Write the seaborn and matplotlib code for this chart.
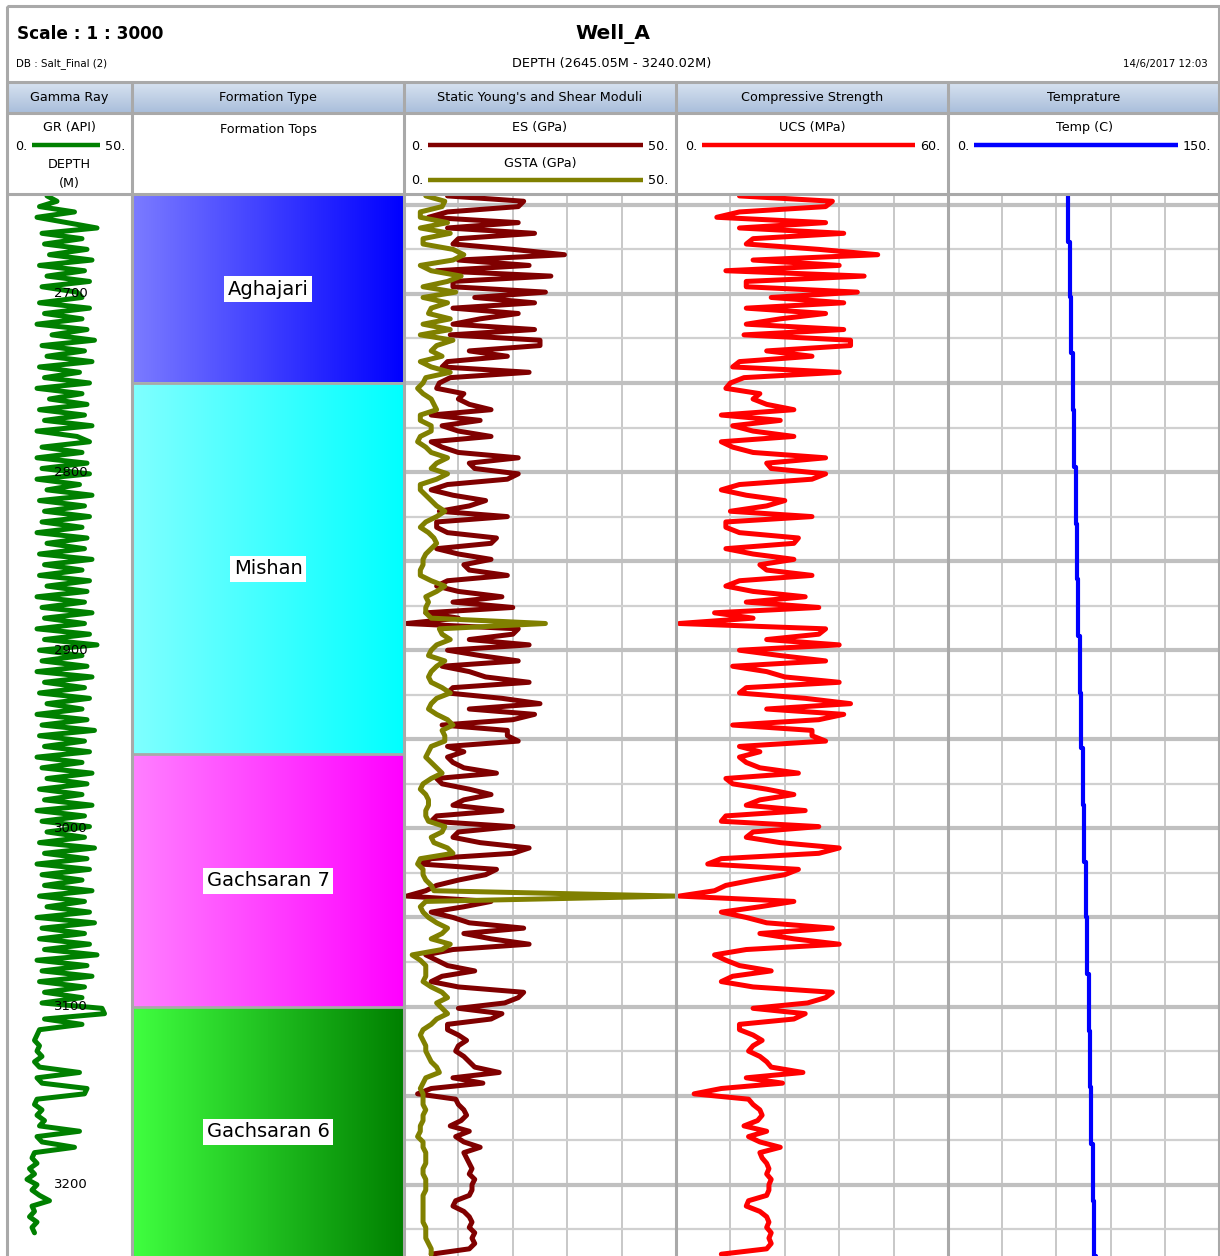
import numpy as np
import matplotlib
matplotlib.use('Agg')
from matplotlib import pyplot as plt
from matplotlib.ticker import MultipleLocator
from matplotlib.colors import LinearSegmentedColormap
from matplotlib.patches import Rectangle
import seaborn as sns

W, H = 1220, 1256
depth_top, depth_bot = 2645.05, 3240.02

# ---- data (3 m sampling) ----
gr_depth = np.arange(2645, 3230, 3)
gr_api = [16, 20, 13, 27, 12, 24, 36, 14, 30, 15,
          32, 17, 34, 13, 31, 16, 33, 14, 28, 30,
          13, 33, 15, 30, 12, 32, 18, 35, 14, 31,
          16, 34, 13, 29, 15, 33, 12, 30, 17, 32,
          13, 31, 15, 34, 12, 28, 33, 14, 30, 12,
          32, 14, 33, 12, 29, 16, 34, 13, 31, 15,
          33, 14, 30, 12, 32, 16, 31, 13, 34, 15,
          30, 13, 33, 16, 32, 12, 31, 14, 34, 15,
          31, 12, 33, 15, 36, 13, 30, 14, 32, 12,
          34, 15, 31, 13, 33, 16, 30, 12, 32, 14,
          35, 13, 31, 15, 33, 12, 30, 14, 34, 16,
          32, 13, 30, 15, 34, 12, 31, 14, 33, 16,
          31, 13, 35, 15, 32, 12, 33, 14, 30, 15,
          34, 13, 31, 16, 33, 12, 35, 14, 31, 13,
          33, 15, 36, 12, 32, 14, 34, 13, 31, 15,
          30, 14, 38, 39, 15, 30, 13, 12, 11, 13,
          12, 14, 11, 13, 29, 12, 14, 32, 31, 12,
          11, 14, 12, 15, 13, 29, 12, 14, 27, 11,
          10, 12, 9, 11, 8, 12, 10, 13, 17, 10,
          11, 9, 12, 10, 11]

log_depth = np.arange(2645, 3240, 3)
es_gpa = [8, 22, 21, 8, 4.5, 21, 8, 24, 10, 9,
          20, 29.5, 10, 23, 6, 27, 9, 9, 26, 13,
          24, 9, 21, 14, 9, 24, 8.5, 25, 25, 12,
          19, 8, 7, 23, 8.5, 6.5, 6, 11, 10, 12,
          16, 5, 14, 7, 10, 16, 5, 7, 10, 21,
          12, 13, 21, 19, 8, 5, 9, 15, 12, 6.5,
          19, 6, 6, 8, 17, 16, 6, 10, 16, 11,
          12, 19, 8, 6, 10, 18, 9, 20, 4, 10,
          0.5, 21, 20, 12, 23, 8, 14, 21, 7, 12,
          15, 23, 9, 8, 18, 25, 12, 24, 20, 7,
          19, 19, 21, 8, 11, 8, 9, 11, 17, 6,
          7, 12, 16, 11, 9, 18, 6, 5, 20, 10,
          9, 14, 23, 20, 5, 3, 17, 15, 10, 6,
          4, 0.5, 16, 11, 5, 9, 12, 22, 11, 16,
          23, 9, 4, 6, 8, 13, 7, 5, 10, 22,
          21, 18.5, 10, 18, 16, 8, 8, 10, 11.5, 10,
          9.5, 11, 12, 13, 17.5, 9, 14.5, 5, 2.5, 9.5,
          10, 11, 11.5, 10.5, 8.5, 12, 9.5, 11, 14, 11,
          11.5, 12, 12.5, 12, 13, 12.5, 12.5, 12, 9.5, 9,
          11, 12, 12.5, 12, 13, 12.5, 13, 12, 5]

gsta_gpa = [4, 7.5, 7, 3, 3, 8, 3, 8.5, 3.5, 3.5,
            9, 11, 9, 3, 5, 10.5, 8, 3.5, 9.5, 3.5,
            8, 5, 4.5, 8.5, 3.5, 8.5, 3, 9, 6, 5,
            7, 3, 5, 8.5, 4, 3.5, 2.5, 3.5, 5, 5.5,
            6, 3, 3, 5, 5, 3, 2.5, 4, 5, 8,
            6, 5, 8, 6, 3, 3, 4, 5, 6, 7.5,
            6, 4, 3, 4.5, 5.5, 6, 5, 4, 3.5, 3.5,
            3, 3, 5, 7.5, 6, 4, 4.5, 4, 4, 5,
            26, 6.5, 7, 8.5, 6, 5, 4.5, 7.5, 6, 5,
            4.5, 5, 7, 8.5, 6, 5, 4.5, 6, 8, 9,
            7, 7.5, 7.5, 5, 4.5, 4, 5, 6, 7, 5,
            3.5, 3, 4, 4.5, 4.5, 4, 4, 4.5, 7.5, 7,
            5, 5.5, 8, 9, 3, 2.5, 3.5, 3.5, 4, 5,
            5.5, 50, 4, 3, 3.5, 4.5, 6, 8, 7, 5,
            8.5, 7, 1.5, 3, 4, 4, 4, 3.5, 5, 7,
            8, 6, 7, 8, 6, 5, 3.5, 3, 3.5, 4,
            4, 4.5, 5, 6, 6.5, 4, 3.5, 3, 3.5, 3.5,
            3.5, 4, 3.5, 3.5, 3, 3, 2.5, 3.5, 3.5, 4,
            4, 4, 3.5, 3.5, 4, 4, 4, 3.5, 3.5, 3.5,
            3.5, 3.5, 3.5, 4, 4, 4, 4.5, 5, 5]

ucs_mpa = [14, 34.5, 33, 14, 9, 33, 14, 37, 17, 15.5,
           31.5, 44.5, 17, 36, 11, 41.5, 15.5, 15.5, 40, 21,
           37, 15.5, 33, 23, 15.5, 37, 15, 38.5, 38.5, 20,
           30, 14, 12.5, 36, 15, 12, 11, 18.5, 17, 20,
           26, 10, 23, 12.5, 17, 26, 10, 12.5, 17, 33,
           20, 21, 33, 30, 14, 10, 15.5, 24, 20, 12,
           30, 11, 11, 14, 27, 26, 11, 17, 26, 18.5,
           20, 30, 14, 11, 17, 28.5, 15.5, 31.5, 8.5, 17,
           0.7, 33, 31.5, 20, 36, 14, 23, 33, 12.5, 20,
           24, 36, 15.5, 14, 28.5, 38.5, 20, 37, 31.5, 12.5,
           30, 30, 33, 14, 18.5, 14, 15.5, 18.5, 27, 11,
           12.5, 20, 26, 18.5, 15.5, 28.5, 11, 10, 31.5, 17,
           15.5, 23, 36, 31.5, 10, 7, 27, 24, 17, 11,
           8.5, 0.7, 26, 18.5, 10, 15.5, 20, 34.5, 18.5, 26,
           36, 15.5, 8.5, 11, 14, 21, 12.5, 10, 17, 34.5,
           33, 29, 17, 28.5, 26, 14, 14, 17, 19, 17,
           16, 18.5, 20, 21, 28, 15.5, 23.5, 10, 4, 16,
           17, 18.5, 19, 18, 15, 20, 16, 18.5, 23, 18.5,
           19, 20, 20.5, 20, 21, 20.5, 20.5, 20, 16, 15.5,
           18.5, 20, 20.5, 20, 21, 20.5, 21, 20, 10]

temp_depth = [2645.05, 2671, 2702, 2733, 2765, 2797, 2829, 2860, 2892, 2924,
              2955, 2987, 3019, 3050, 3082, 3114, 3145, 3177, 3209, 3240.02]
temp_c = [66.6, 67.4, 68.2, 69.0, 69.8, 70.6, 71.4, 72.2, 73.0, 73.8,
          74.6, 75.4, 76.2, 77.0, 77.8, 78.6, 79.4, 80.2, 81.0, 81.8]

form_names = ['Aghajari', 'Mishan', 'Gachsaran 7', 'Gachsaran 6']
form_tops = [2645.05, 2750.0, 2958.3, 3100.3]
form_bases = [2750.0, 2958.3, 3100.3, 3240.02]
form_light = ['#7b7bff', '#80ffff', '#ff80ff', '#40ff40']
form_dark = ['#0000ff', '#00ffff', '#ff00ff', '#008000']

depth_marks = [2700, 2800, 2900, 3000, 3100, 3200]

track_titles = ['Gamma Ray', 'Formation Type', "Static Young's and Shear Moduli",
                'Compressive Strength', 'Temprature']
track_edges = [7, 132, 404, 676, 948, 1219]

# ---- figure ----
sns.set_style('white')
plt.rcParams['font.family'] = ['DejaVu Sans']
plt.rcParams['text.color'] = 'black'
fig = plt.figure(figsize=(W / 100, H / 100), dpi=100)

GRID_COL = '#a9a9a9'


def px_axes(x0, x1, y0, y1, **kw):
    return fig.add_axes([x0 / W, 1 - y1 / H, (x1 - x0) / W, (y1 - y0) / H], **kw)


ax0 = px_axes(0, W, 0, H)
ax0.set_xlim(0, W)
ax0.set_ylim(H, 0)
ax0.axis('off')

# header band for track titles
band = LinearSegmentedColormap.from_list('band', ['#d6e1ef', '#a9bedb'])
ax0.imshow(np.linspace(0, 1, 64).reshape(-1, 1), cmap=band, aspect='auto',
           extent=(7, 1219, 113, 83), origin='upper')
ax0.set_xlim(0, W)
ax0.set_ylim(H, 0)

ax0.text(17, 34, 'Scale : 1 : 3000', fontsize=12.2, fontweight='bold', va='center', ha='left')
ax0.text(613, 34, 'Well_A', fontsize=14.5, fontweight='bold', va='center', ha='center')
ax0.text(16, 64, 'DB : Salt_Final (2)', fontsize=7.4, va='center', ha='left')
ax0.text(612, 63, 'DEPTH (2645.05M - 3240.02M)', fontsize=9.3, va='center', ha='center')
ax0.text(1208, 64, '14/6/2017 12:03', fontsize=7.4, va='center', ha='right')

for i, title in enumerate(track_titles):
    xc = (track_edges[i] + track_edges[i + 1]) / 2
    ax0.text(xc, 97, title, fontsize=9.2, va='center', ha='center')

# curve legends
leg_fs = 9.2
def legend_line(xc, y, label, lo, hi, x0, x1, color):
    ax0.text(xc, y - 17, label, fontsize=leg_fs, va='center', ha='center')
    ax0.plot([x0, x1], [y, y], color=color, lw=3.2, solid_capstyle='butt')
    ax0.text(x0 - 5, y + 1, lo, fontsize=leg_fs, va='center', ha='right')
    ax0.text(x1 + 5, y + 1, hi, fontsize=leg_fs, va='center', ha='left')

legend_line(69, 145, 'GR (API)', '0.', '50.', 32, 100, '#008000')
ax0.text(69, 164, 'DEPTH', fontsize=leg_fs, va='center', ha='center')
ax0.text(69, 184, '(M)', fontsize=leg_fs, va='center', ha='center')
ax0.text(268, 129, 'Formation Tops', fontsize=leg_fs, va='center', ha='center')
legend_line(540, 145, 'ES (GPa)', '0.', '50.', 428, 643, '#800000')
legend_line(540, 180, 'GSTA (GPa)', '0.', '50.', 428, 643, '#808000')
legend_line(812, 145, 'UCS (MPa)', '0.', '60.', 702, 915, '#ff0000')
legend_line(1084, 145, 'Temp (C)', '0.', '150.', 974, 1178, '#0000ff')


def setup_track(ax, lo, hi, step=None):
    ax.set_xlim(lo, hi)
    ax.set_ylim(depth_bot, depth_top)
    for s in ax.spines.values():
        s.set_visible(False)
    ax.set_xlabel('')
    ax.set_ylabel('')
    if step is not None:
        ax.xaxis.set_major_locator(MultipleLocator(step))
        ax.yaxis.set_major_locator(MultipleLocator(50))
        ax.yaxis.set_minor_locator(MultipleLocator(25))
        ax.grid(True, which='major', axis='x', color='#c8c8c8', lw=1.4)
        ax.grid(True, which='major', axis='y', color='#c0c0c0', lw=3.0)
        ax.grid(True, which='minor', axis='y', color='#d0d0d0', lw=1.6)
        ax.set_axisbelow(True)
    else:
        ax.set_xticks([])
        ax.set_yticks([])
    ax.tick_params(which='both', length=0, labelbottom=False, labelleft=False)


y_top, y_bot = 196, 1256

# track 1: gamma ray + depth
ax1 = px_axes(7, 132, y_top, y_bot)
sns.lineplot(x=gr_api, y=gr_depth, orient='y', sort=False, estimator=None,
             color='#008000', lw=3.6, ax=ax1)
setup_track(ax1, 0, 50)
for d in depth_marks:
    ax1.text(25.6, d, str(d), fontsize=9.5, color='black', ha='center', va='center', zorder=5)

# track 2: formation tops
ax2 = px_axes(132, 404, y_top, y_bot)
for name, top, base, c0, c1 in zip(form_names, form_tops, form_bases, form_light, form_dark):
    cmap = LinearSegmentedColormap.from_list(name, [c0, c1])
    ax2.imshow(np.linspace(0, 1, 128).reshape(1, -1), cmap=cmap, aspect='auto',
               extent=(0, 1, base, top), origin='upper')
    ax2.text(0.5, (top + base) / 2, name, fontsize=14, ha='center', va='center',
             bbox=dict(facecolor='white', edgecolor='none', pad=2.5))
for b in form_tops[1:]:
    ax2.axhline(b, color=GRID_COL, lw=2)
setup_track(ax2, 0, 1)

# track 3: ES / GSTA
ax3 = px_axes(404, 676, y_top, y_bot)
sns.lineplot(x=es_gpa, y=log_depth, orient='y', sort=False, estimator=None,
             color='#800000', lw=3.6, ax=ax3)
sns.lineplot(x=gsta_gpa, y=log_depth, orient='y', sort=False, estimator=None,
             color='#808000', lw=3.6, ax=ax3)
setup_track(ax3, 0, 50, 10)

# track 4: UCS
ax4 = px_axes(676, 948, y_top, y_bot)
sns.lineplot(x=ucs_mpa, y=log_depth, orient='y', sort=False, estimator=None,
             color='#ff0000', lw=3.6, ax=ax4)
setup_track(ax4, 0, 60, 12)

# track 5: temperature
ax5 = px_axes(948, 1219, y_top, y_bot)
sns.lineplot(x=temp_c, y=temp_depth, orient='y', sort=False, estimator=None,
             color='#0000ff', lw=3.0, drawstyle='steps-pre', ax=ax5)
setup_track(ax5, 0, 150, 30)

# frame and separators on top
axt = px_axes(0, W, 0, H, zorder=20)
axt.set_xlim(0, W)
axt.set_ylim(H, 0)
axt.axis('off')
axt.patch.set_alpha(0)
axt.add_patch(Rectangle((7, 6), 1212, 1252, fill=False, edgecolor=GRID_COL, lw=2.2))
for y in [82, 113, 194]:
    axt.plot([7, 1219], [y, y], color=GRID_COL, lw=2.2)
for x in track_edges[1:-1]:
    axt.plot([x, x], [82, H], color=GRID_COL, lw=2.2)

fig.savefig('out.png', dpi=100)
